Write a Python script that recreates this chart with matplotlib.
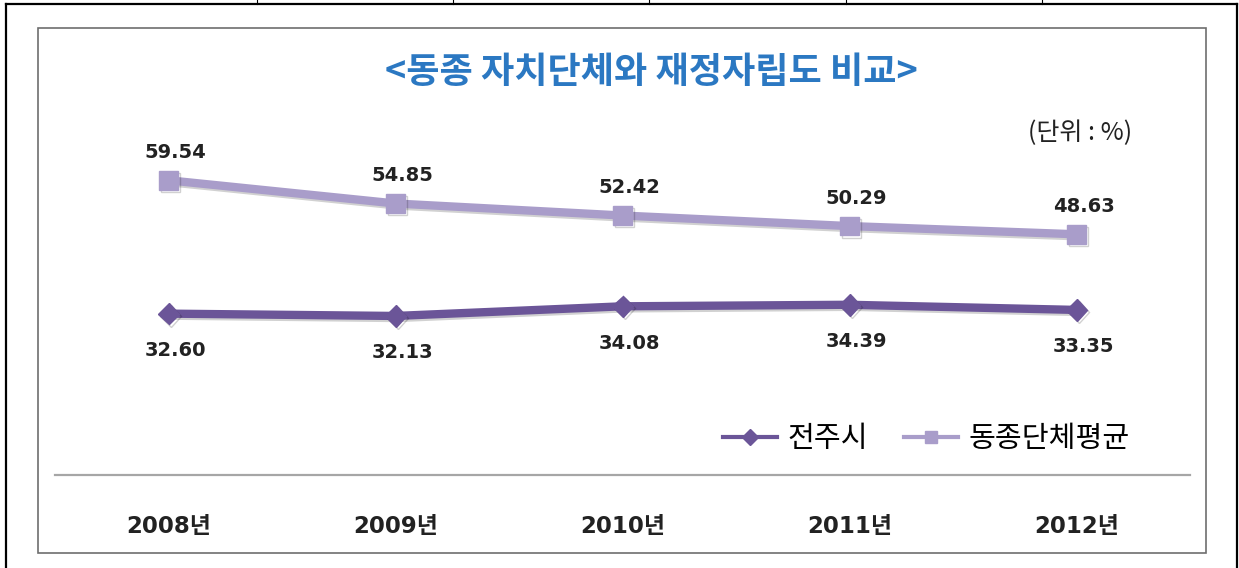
import matplotlib
matplotlib.use('Agg')
import matplotlib.pyplot as plt
import matplotlib.patheffects as pe
from matplotlib.lines import Line2D
from matplotlib.patches import Rectangle

# data
years = ['2008년', '2009년', '2010년', '2011년', '2012년']
jeonju = [32.60, 32.13, 34.08, 34.39, 33.35]
peer_avg = [59.54, 54.85, 52.42, 50.29, 48.63]
series_names = ['전주시', '동종단체평균']
title = '<동종 자치단체와 재정자립도 비교>'
unit_text = '(단위 : %)'

W, H = 1239, 568
dark = '#6b5598'
light = '#a99dca'
kr = ['Noto Sans CJK KR', 'DejaVu Sans']

plt.rcParams['font.family'] = ['DejaVu Sans', 'Noto Sans CJK KR']

fig = plt.figure(figsize=(W / 100, H / 100), dpi=100)


def fx(x):
    return x / W


def fy(y):
    return 1 - y / H


# outer page frame and the table row above it
fig.add_artist(Line2D([fx(6), fx(1237)], [fy(4), fy(4)], color='black', lw=1.6))
fig.add_artist(Line2D([fx(6), fx(6)], [fy(4), fy(H)], color='black', lw=1.6))
fig.add_artist(Line2D([fx(1237), fx(1237)], [fy(4), fy(H)], color='black', lw=1.6))
for vx in [257, 453, 649, 846, 1042]:
    fig.add_artist(Line2D([fx(vx), fx(vx)], [fy(0), fy(4)], color='black', lw=0.8))

# chart box
fig.add_artist(Rectangle((fx(38), fy(553)), fx(1206 - 38), (553 - 28) / H,
                         fill=False, edgecolor='#6e6e6e', lw=1.2))

# plot area
ax = fig.add_axes([fx(55), fy(475), fx(1135), 346.5 / H])
x = list(range(len(years)))

shadow = [pe.SimpleLineShadow(offset=(1.5, -1.5), alpha=0.18), pe.Normal()]
l1, = ax.plot(x, jeonju, color=dark, lw=6, marker='D', markersize=11,
              markerfacecolor=dark, markeredgecolor=dark, path_effects=shadow,
              solid_capstyle='butt')
l2, = ax.plot(x, peer_avg, color=light, lw=6, marker='s', markersize=13.5,
              markerfacecolor=light, markeredgecolor=light, path_effects=shadow,
              solid_capstyle='butt')

for xi, v in zip(x, peer_avg):
    ax.annotate(f'{v:.2f}', (xi, v), xytext=(5, 20), textcoords='offset points',
                ha='center', va='center', fontsize=14, fontweight='bold', color='#222222')
for xi, v in zip(x, jeonju):
    ax.annotate(f'{v:.2f}', (xi, v), xytext=(5, -26.5), textcoords='offset points',
                ha='center', va='center', fontsize=14, fontweight='bold', color='#222222')

ax.set_xlim(-0.5, 4.5)
ax.set_ylim(0, 70)
ax.set_xticks(x)
ax.set_xticklabels(years, fontsize=16.5, fontweight='bold', color='#222222')
ax.tick_params(axis='x', length=0, pad=29)
ax.set_yticks([])
for s in ['top', 'left', 'right']:
    ax.spines[s].set_visible(False)
ax.spines['bottom'].set_color('#a6a6a6')
ax.spines['bottom'].set_linewidth(1.6)
ax.patch.set_visible(False)

# title and unit
fig.text(fx(651), fy(72), title, ha='center', va='center', fontsize=26,
         fontweight='bold', color='#2b78c2', family=kr)
fig.text(fx(1080), fy(133), unit_text, ha='center', va='center', fontsize=18,
         fontweight='medium', color='#222222', family=kr)

# legend
handles = [Line2D([], [], color=dark, lw=3, marker='D', markersize=8),
           Line2D([], [], color=light, lw=3, marker='s', markersize=9)]
fig.legend(handles, series_names, loc='center right', bbox_to_anchor=(fx(1156), fy(439)),
           ncol=2, frameon=False, handlelength=1.85, handletextpad=0.35, columnspacing=1.25,
           prop={'family': kr, 'size': 21})

fig.savefig('out.png', dpi=100)
